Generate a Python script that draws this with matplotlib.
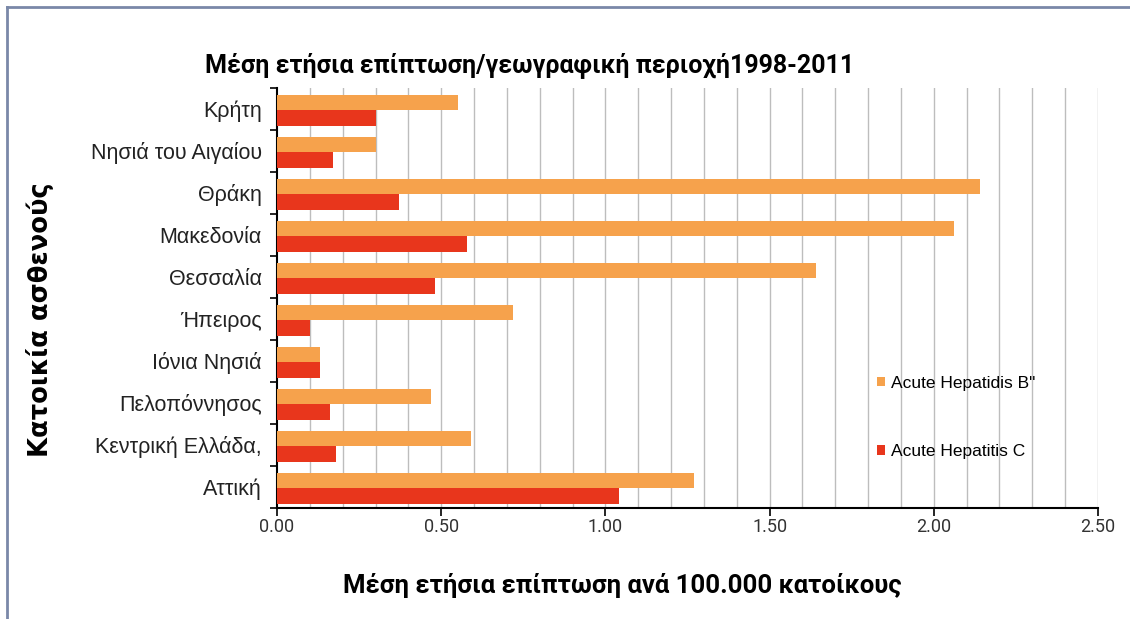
import matplotlib
matplotlib.use("Agg")
import matplotlib.pyplot as plt
import numpy as np
from matplotlib import font_manager
from matplotlib.lines import Line2D

names = {f.name for f in font_manager.fontManager.ttflist}
narrow = "Liberation Sans Narrow" if "Liberation Sans Narrow" in names else "Roboto"

categories = ["Κρήτη", "Νησιά του Αιγαίου", "Θράκη", "Μακεδονία", "Θεσσαλία",
              "Ήπειρος", "Ιόνια Νησιά", "Πελοπόννησος", "Κεντρική Ελλάδα,", "Αττική"]
hep_b = [0.55, 0.30, 2.14, 2.06, 1.64, 0.72, 0.13, 0.47, 0.59, 1.27]
hep_c = [0.30, 0.17, 0.37, 0.58, 0.48, 0.10, 0.13, 0.16, 0.18, 1.04]
series_names = ["Acute Hepatidis B\"", "Acute Hepatitis C"]
xticks = [0.0, 0.5, 1.0, 1.5, 2.0, 2.5]

fig = plt.figure(figsize=(11.3, 6.19), dpi=100)
ax = fig.add_axes([277/1130, 1-508/619, (1098-277)/1130, (508-88)/619])

y = np.arange(len(categories))
ax.barh(y - 0.15, hep_b, height=0.36, color="#F6A24C", zorder=3, label=series_names[0])
ax.barh(y + 0.22, hep_c, height=0.38, color="#E8361C", zorder=3, label=series_names[1])

ax.set_ylim(len(categories) - 0.5, -0.5)
ax.set_xlim(0, 2.5)
ax.set_yticks(y)
ax.set_yticklabels(categories, fontsize=15.5, color="#222222", family="Liberation Sans")
ax.set_yticks(np.arange(-0.5, len(categories)), minor=True)
ax.tick_params(axis="y", which="major", length=0, pad=11)
ax.tick_params(axis="y", which="minor", length=5, width=1.2, direction="out")
ax.set_xticks(xticks)
ax.set_xticklabels([f"{v:.2f}" for v in xticks], fontsize=13, color="#333333", family=narrow)
ax.tick_params(axis="x", which="major", length=6, width=1.2, direction="out", pad=1)
for gx in np.arange(0.1, 2.51, 0.1):
    ax.axvline(gx, color="#BDBDBD", lw=1.0, zorder=1)
ax.xaxis.set_minor_locator(matplotlib.ticker.NullLocator())

for s in ["top", "right"]:
    ax.spines[s].set_visible(False)
ax.spines["left"].set_linewidth(1.5)
ax.spines["bottom"].set_linewidth(1.5)

fig.text(530/1130, 1-65/619, "Μέση ετήσια επίπτωση/γεωγραφική περιοχή1998-2011",
         ha="center", va="center", fontsize=18, fontweight="bold", family=narrow)
fig.text(622/1130, 1-586/619, "Μέση ετήσια επίπτωση ανά 100.000 κατοίκους",
         ha="center", va="center", fontsize=18.5, fontweight="bold", family=narrow)
fig.text(40/1130, 1-320/619, "Κατοικία ασθενούς", rotation=90,
         ha="center", va="center", fontsize=18.5, fontweight="bold", family="DejaVu Sans")

leg = ax.legend(loc="upper left", bbox_to_anchor=((861-277)/(1098-277), (508-360)/420),
                frameon=False, handlelength=0.5, handleheight=0.5, handletextpad=0.3,
                labelspacing=3.1, prop={"family": "Liberation Sans", "size": 12.5})

# frame border (left and top)
fig.add_artist(Line2D([7/1130, 7/1130], [0, 1-7/619], transform=fig.transFigure,
                      color="#7A88A8", lw=2))
fig.add_artist(Line2D([7/1130, 1], [1-7/619, 1-7/619], transform=fig.transFigure,
                      color="#7A88A8", lw=2))

fig.savefig("out.png", dpi=100)
